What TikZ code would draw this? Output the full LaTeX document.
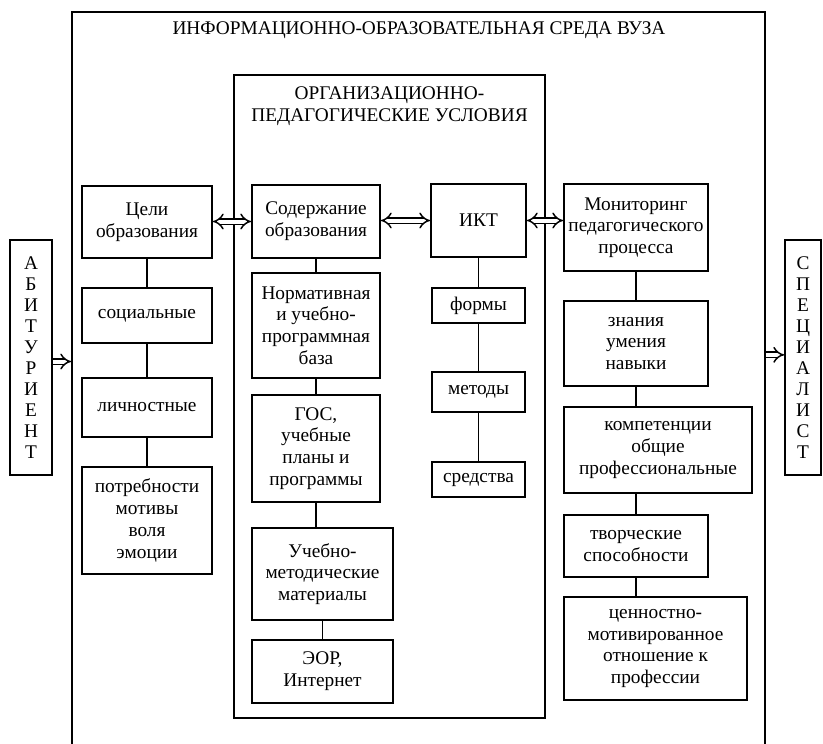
\documentclass[tikz,border=0pt]{standalone}
\usepackage{fontspec}
\setmainfont{Liberation Serif}
\usetikzlibrary{arrows.meta}

\begin{document}
\begin{tikzpicture}[x=0.75pt, y=-0.75pt,
            box/.style={draw, rectangle, line width=1.4pt, align=center, inner sep=1pt, font=\fontsize{14.5}{16.3}\selectfont},
            frame/.style={draw, rectangle, line width=1.4pt},
            link/.style={line width=1.3pt},
            both/.style={double, double distance=3pt, line width=1.1pt, {Implies}-{Implies}},
            into/.style={double, double distance=3pt, line width=1.1pt, -{Implies}}]
            \useasboundingbox (0,0) rectangle (823,743);

            \node (env) [frame, minimum width=519.75pt, minimum height=591pt] at (418.5,406) {};
            \node (envtitle) [font=\fontsize{14.5}{16.3}\selectfont] at (419,30) {ИНФОРМАЦИОННО-ОБРАЗОВАТЕЛЬНАЯ СРЕДА ВУЗА};
            \node (cond) [frame, minimum width=233.25pt, minimum height=482.25pt] at (389.5,396.5) {};
            \node (condtitle) [align=center, font=\fontsize{14.5}{16.8}\selectfont] at (389.5,106) {ОРГАНИЗАЦИОННО-\\ПЕДАГОГИЧЕСКИЕ УСЛОВИЯ};

            \node (applicant) [box, minimum width=31.5pt, minimum height=176.25pt, font=\fontsize{14.5}{15.8}\selectfont] at (31,357.5) {А\\Б\\И\\Т\\У\\Р\\И\\Е\\Н\\Т};
            \node (specialist) [box, minimum width=27pt, minimum height=176.25pt, font=\fontsize{14.5}{15.8}\selectfont] at (803,357.5) {С\\П\\Е\\Ц\\И\\А\\Л\\И\\С\\Т};

            \node (goals) [box, minimum width=97.5pt, minimum height=54pt] at (147,222) {Цели\\образования};
            \node (social) [box, minimum width=97.5pt, minimum height=41.25pt] at (147,315.5) {социальные};
            \node (personal) [box, minimum width=97.5pt, minimum height=44.25pt] at (147,407.5) {личностные};
            \node (needs) [box, minimum width=97.5pt, minimum height=80.25pt] at (147,520.5) {потребности\\мотивы\\воля\\эмоции};

            \node (content) [box, minimum width=96pt, minimum height=54.75pt] at (316,221.5) {Содержание\\образования};
            \node (norms) [box, minimum width=96pt, minimum height=78.75pt] at (316,325.5) {Нормативная\\и учебно-\\программная\\база};
            \node (gos) [box, minimum width=96pt, minimum height=80.25pt] at (316,448.5) {ГОС,\\учебные\\планы и\\программы};
            \node (materials) [box, minimum width=105.75pt, minimum height=69pt] at (322.5,574) {Учебно-\\методические\\материалы};
            \node (eor) [box, minimum width=105.75pt, minimum height=47.25pt] at (322.5,671.5) {ЭОР,\\Интернет};

            \node (ict) [box, minimum width=71.25pt, minimum height=54.75pt] at (478.5,220.5) {ИКТ};
            \node (forms) [box, minimum width=69.75pt, minimum height=26.25pt] at (478.5,305.5) {формы};
            \node (methods) [box, minimum width=69.75pt, minimum height=30pt] at (478.5,392) {методы};
            \node (means) [box, minimum width=69.75pt, minimum height=26.25pt] at (478.5,479.5) {средства};

            \node (monitor) [box, minimum width=108pt, minimum height=65.25pt] at (636,227.5) {Мониторинг\\педагогического\\процесса};
            \node (skills) [box, minimum width=108pt, minimum height=63.75pt] at (636,343.5) {знания\\умения\\навыки};
            \node (compet) [box, minimum width=141pt, minimum height=64.5pt] at (658,450) {компетенции\\общие\\профессиональные};
            \node (creative) [box, minimum width=108pt, minimum height=46.5pt] at (636,546) {творческие\\способности};
            \node (values) [box, minimum width=137.25pt, minimum height=77.25pt] at (655.5,648.5) {ценностно-\\мотивированное\\отношение к\\профессии};

            \draw[link] (goals) -- (social);
            \draw[link] (social) -- (personal);
            \draw[link] (personal) -- (needs);
            \draw[link] (content) -- (norms);
            \draw[link] (norms) -- (gos);
            \draw[link] (gos.south) -- (gos.south |- materials.north);
            \draw[link] (materials) -- (eor);
            \draw[link] (ict) -- (forms);
            \draw[link] (forms) -- (methods);
            \draw[link] (methods) -- (means);
            \draw[link] (monitor) -- (skills);
            \draw[link] (skills.south) -- (skills.south |- compet.north);
            \draw[link] (creative.north |- compet.south) -- (creative.north);
            \draw[link] (creative.south) -- (creative.south |- values.north);

            \draw[both] (goals.east |- content.west) -- (content.west);
            \draw[both] (content.east |- ict.west) -- (ict.west);
            \draw[both] (ict.east) -- (ict.east -| monitor.west);
            \draw[into] ([yshift=-3pt]applicant.east) -- ([yshift=-3pt]applicant.east -| env.west);
            \draw[into] ([yshift=2pt]env.east |- specialist.west) -- ([yshift=2pt]specialist.west);
        \end{tikzpicture}
\end{document}
